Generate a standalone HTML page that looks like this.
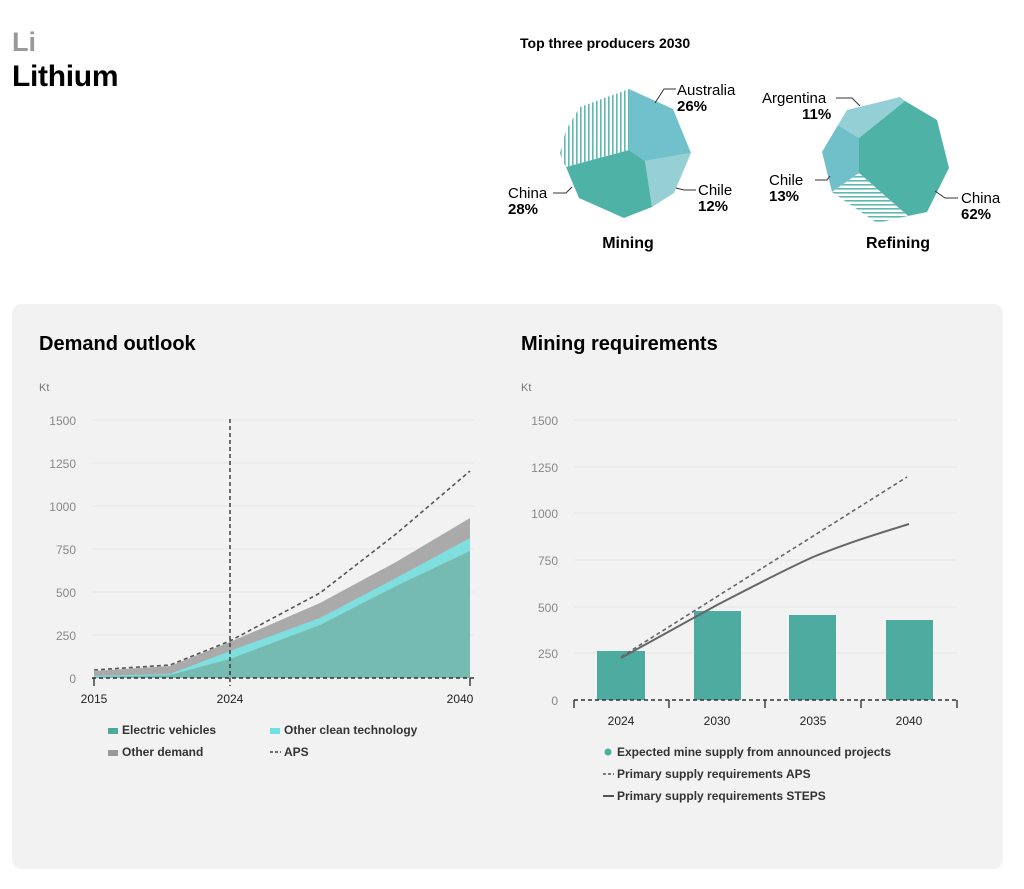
<!DOCTYPE html>
<html><head><meta charset="utf-8"><style>
body{margin:0;width:1024px;height:889px;background:#fff;font-family:"Liberation Sans",sans-serif;position:relative;overflow:hidden}
.a{position:absolute}
</style></head><body>
<div class="a" style="left:12px;top:27px;font-size:27px;font-weight:bold;color:#999">Li</div>
<div class="a" style="left:12px;top:60px;font-size:30px;font-weight:bold;color:#000;letter-spacing:-0.3px">Lithium</div>
<div class="a" style="left:12px;top:304px;width:991px;height:565px;background:#f2f2f2;border-radius:10px"></div>
<svg class="a" style="left:0;top:0" width="1024" height="889" font-family="Liberation Sans, sans-serif">
<defs>
<pattern id="vh" width="4" height="4" patternUnits="userSpaceOnUse"><rect width="4" height="4" fill="#fff"/><rect width="1.6" height="4" fill="#5fb9b0"/></pattern>
<pattern id="hh" width="4" height="4" patternUnits="userSpaceOnUse"><rect width="4" height="4" fill="#fff"/><rect width="4" height="1.6" fill="#5fb9b0"/></pattern>
</defs>
<text x="520" y="48" font-size="14" font-weight="bold">Top three producers 2030</text>
<!-- Mining -->
<polygon points="629,89 629,150 566,167 562,160 560,153 566,130 580,107" fill="url(#vh)"/>
<polygon points="629,89 673,109 691,153 645,161 629,150" fill="#70c1cb"/>
<polygon points="645,161 691,153 674,193 652,207" fill="#96d0d5"/>
<polygon points="566,167 629,150 645,161 652,207 624,218 579,198" fill="#4fb2a6"/>
<polyline points="655,103 664,89 676,89" fill="none" stroke="#333"/>
<text x="677" y="95" font-size="15">Australia</text>
<text x="677" y="111" font-size="15" font-weight="bold">26%</text>
<polyline points="676,188 684,190 696,190" fill="none" stroke="#333"/>
<text x="698" y="195" font-size="15">Chile</text>
<text x="698" y="211" font-size="15" font-weight="bold">12%</text>
<polyline points="553,193 566,193 572,187" fill="none" stroke="#333"/>
<text x="508" y="198" font-size="15">China</text>
<text x="508" y="214" font-size="15" font-weight="bold">28%</text>
<text x="628" y="248" font-size="16" font-weight="bold" text-anchor="middle">Mining</text>
<!-- Refining -->
<polygon points="847,110 900,97 905,101 859,138 838,125" fill="#93cfd4"/>
<polygon points="905,101 937,120 949,168 927,212 908,216 859,173 859,138" fill="#4fb2a6"/>
<polygon points="838,125 859,138 859,173 832,192 822,152" fill="#70c0c9"/>
<polygon points="832,192 859,173 908,216 877,223" fill="url(#hh)"/>
<polyline points="836,98 852,98 860,106" fill="none" stroke="#333"/>
<text x="762" y="103" font-size="15">Argentina</text>
<text x="802" y="119" font-size="15" font-weight="bold">11%</text>
<polyline points="815,180 827,180 830,176" fill="none" stroke="#333"/>
<text x="769" y="185" font-size="15">Chile</text>
<text x="769" y="201" font-size="15" font-weight="bold">13%</text>
<polyline points="935,191 945,198 958,198" fill="none" stroke="#333"/>
<text x="961" y="203" font-size="15">China</text>
<text x="961" y="219" font-size="15" font-weight="bold">62%</text>
<text x="898" y="248" font-size="16" font-weight="bold" text-anchor="middle">Refining</text>

<!-- Demand outlook -->
<text x="39" y="350" font-size="20" font-weight="bold">Demand outlook</text>
<text x="39" y="391" font-size="11" fill="#777">Kt</text>
<g stroke="#e6e6e6"><line x1="92" x2="474" y1="420" y2="420"/><line x1="92" x2="474" y1="463" y2="463"/><line x1="92" x2="474" y1="506" y2="506"/><line x1="92" x2="474" y1="549" y2="549"/><line x1="92" x2="474" y1="592" y2="592"/><line x1="92" x2="474" y1="635" y2="635"/></g>
<g font-size="12" fill="#888" text-anchor="end"><text x="76" y="425">1500</text><text x="76" y="468">1250</text><text x="76" y="511">1000</text><text x="76" y="554">750</text><text x="76" y="597">500</text><text x="76" y="640">250</text><text x="76" y="683">0</text></g>
<path d="M94,671 L170,666 L230,642 L320,603 L396,562 L470,518 L470,678 L94,678Z" fill="#aaa"/>
<path d="M94,676 L170,674 L230,651 L320,618 L396,578 L470,538 L470,678 L94,678Z" fill="#7fdfdf"/>
<path d="M94,677 L170,675 L230,659 L320,625 L396,586 L470,551 L470,678 L94,678Z" fill="#76bbb2"/>
<path d="M94,670 L170,665 L230,641 L320,593 L396,534 L470,471" fill="none" stroke="#555" stroke-width="1.6" stroke-dasharray="4,3"/>
<line x1="230" y1="419" x2="230" y2="686" stroke="#333" stroke-width="1.4" stroke-dasharray="4,3"/>
<line x1="92" y1="678" x2="474" y2="678" stroke="#333" stroke-width="1.4" stroke-dasharray="4,3"/>
<g stroke="#333" stroke-width="1.4"><line x1="94" y1="678" x2="94" y2="686"/><line x1="470" y1="678" x2="470" y2="686"/></g>
<g font-size="12" fill="#222" text-anchor="middle"><text x="94" y="703">2015</text><text x="230" y="703">2024</text><text x="460" y="703">2040</text></g>
<rect x="108" y="728" width="10" height="6" fill="#4fa89c"/>
<text x="122" y="734" font-size="12" font-weight="bold" fill="#333">Electric vehicles</text>
<rect x="270" y="728" width="10" height="6" fill="#6fe0e0"/>
<text x="284" y="734" font-size="12" font-weight="bold" fill="#333">Other clean technology</text>
<rect x="108" y="750" width="10" height="6" fill="#999"/>
<text x="122" y="756" font-size="12" font-weight="bold" fill="#333">Other demand</text>
<line x1="270" y1="752" x2="281" y2="752" stroke="#444" stroke-width="1.5" stroke-dasharray="3,2"/>
<text x="284" y="756" font-size="12" font-weight="bold" fill="#333">APS</text>

<!-- Mining requirements -->
<text x="521" y="350" font-size="20" font-weight="bold">Mining requirements</text>
<text x="521" y="391" font-size="11" fill="#777">Kt</text>
<g stroke="#e6e6e6"><line x1="574" x2="957" y1="420" y2="420"/><line x1="574" x2="957" y1="467" y2="467"/><line x1="574" x2="957" y1="513" y2="513"/><line x1="574" x2="957" y1="560" y2="560"/><line x1="574" x2="957" y1="607" y2="607"/><line x1="574" x2="957" y1="653" y2="653"/></g>
<g font-size="12" fill="#888" text-anchor="end"><text x="558" y="425">1500</text><text x="558" y="472">1250</text><text x="558" y="518">1000</text><text x="558" y="565">750</text><text x="558" y="612">500</text><text x="558" y="658">250</text><text x="558" y="705">0</text></g>
<g fill="#4eaba0"><rect x="597" y="651" width="48" height="49"/><rect x="694" y="611" width="47" height="89"/><rect x="789" y="615" width="47" height="85"/><rect x="886" y="620" width="47" height="80"/></g>
<path d="M621,657 L907,477" fill="none" stroke="#666" stroke-width="1.6" stroke-dasharray="4,3"/>
<path d="M621,658 L717,605 C750,588 780,572 813,557 C850,542 880,533 909,524" fill="none" stroke="#666" stroke-width="2"/>
<line x1="574" y1="700" x2="957" y2="700" stroke="#333" stroke-width="1.4" stroke-dasharray="4,3"/>
<g stroke="#333" stroke-width="1.4"><line x1="574" y1="700" x2="574" y2="708"/><line x1="669" y1="700" x2="669" y2="708"/><line x1="765" y1="700" x2="765" y2="708"/><line x1="861" y1="700" x2="861" y2="708"/><line x1="957" y1="700" x2="957" y2="708"/></g>
<g font-size="12" fill="#222" text-anchor="middle"><text x="621" y="725">2024</text><text x="717" y="725">2030</text><text x="813" y="725">2035</text><text x="909" y="725">2040</text></g>
<circle cx="608" cy="752" r="3.5" fill="#4eaba0"/>
<text x="617" y="756" font-size="12" font-weight="bold" fill="#333">Expected mine supply from announced projects</text>
<line x1="603" y1="774" x2="614" y2="774" stroke="#555" stroke-width="1.5" stroke-dasharray="3,2"/>
<text x="617" y="778" font-size="12" font-weight="bold" fill="#333">Primary supply requirements APS</text>
<line x1="603" y1="796" x2="614" y2="796" stroke="#555" stroke-width="2"/>
<text x="617" y="800" font-size="12" font-weight="bold" fill="#333">Primary supply requirements STEPS</text>
</svg>
</body></html>
